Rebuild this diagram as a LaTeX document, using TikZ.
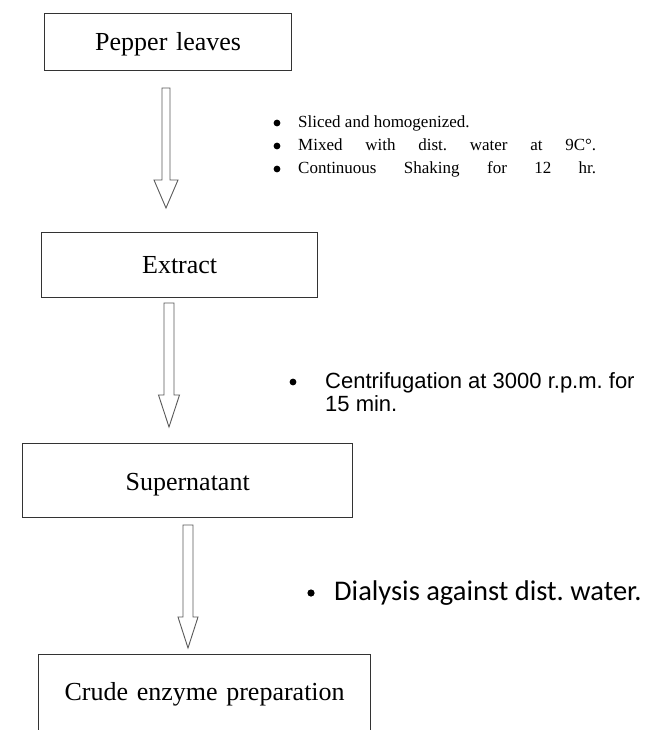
\documentclass[tikz,border=0pt]{standalone}
\usepackage{fontspec}
\setmainfont{Liberation Serif}
\newfontfamily\arialf{Liberation Sans}
\newfontfamily\calf{Carlito}
\frenchspacing
\newcommand\hollowarr[6]{%
  \draw[blockarr] (#1-#5,#2) -- (#1+#5,#2) -- (#1+#5,#3) -- (#1+#6,#3) -- (#1,#4)
    -- (#1-#6,#3) -- (#1-#5,#3) -- cycle;}
\begin{document}
\begin{tikzpicture}[x=1pt,y=-1pt,
  boxnode/.style={draw=black!80, line width=1.3pt, inner xsep=0pt, inner ysep=0pt,
    anchor=north west, align=center, font=\fontsize{26}{30}\selectfont},
  blockarr/.style={draw=black!65, line width=0.9pt, fill=white, line join=miter},
  bulletdot/.style={fill=black},
  steptext/.style={anchor=base west, inner sep=0pt, font=\fontsize{17}{20}\selectfont},
  sanstext/.style={anchor=base west, inner sep=0pt, align=left, font=\arialf\fontsize{22}{23}\selectfont},
  calitext/.style={anchor=base west, inner sep=0pt, font=\calf\fontsize{28.5}{30}\selectfont}]
\clip (0,0) rectangle (664,730);
\fill[white] (0,0) rectangle (664,730);

% boxes
\node[boxnode, text width=247pt, text height=37pt, text depth=20pt] (b1) at (44,13) {Pepper leaves};
\node[boxnode, text width=276pt, text height=41pt, text depth=24pt] (b2) at (41,232) {Extract};
\node[boxnode, text width=330pt, text height=47pt, text depth=27pt] (b3) at (22,443) {Supernatant};
\node[boxnode, text width=332pt, text height=46pt, text depth=50pt] (b4) at (38,654) {Crude enzyme preparation};

% hollow block arrows
\hollowarr{166}{88}{180}{208}{4}{12}
\hollowarr{169}{303}{395}{427}{5}{10.5}
\hollowarr{188}{525}{617}{648}{5}{10}

% step notes 1
\fill[bulletdot] (277,123) circle (3.4);
\fill[bulletdot] (277,146) circle (3.4);
\fill[bulletdot] (277,169) circle (3.4);
\node[steptext] (n1a) at (298,128) {Sliced and homogenized.};
\node[steptext] (n1b) at (298,151) {\makebox[298pt][s]{Mixed with dist. water at 9C\textdegree.}};
\node[steptext] (n1c) at (298,174) {\makebox[298pt][s]{Continuous Shaking for 12 hr.}};

% step notes 2
\fill[bulletdot] (293,382) circle (3.4);
\node[sanstext] (n2) at (325,411) {Centrifugation at 3000 r.p.m. for\\15 min.};

% step notes 3
\fill[bulletdot] (311,593) circle (3.6);
\node[calitext] (n3) at (334,600) {Dialysis against dist. water.};
\end{tikzpicture}
\end{document}
